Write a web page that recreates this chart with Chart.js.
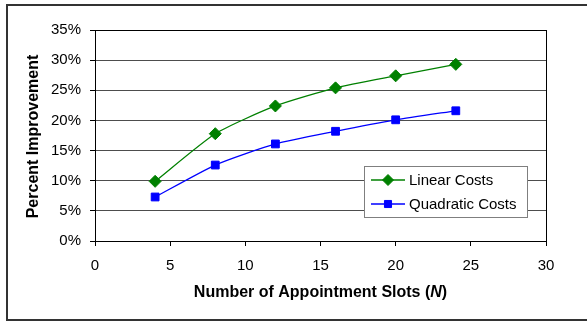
<!DOCTYPE html>
<html>
<head>
<meta charset="utf-8">
<script src="https://cdn.jsdelivr.net/npm/chart.js@4.4.1/dist/chart.umd.min.js"></script>
<style>
  html, body { margin: 0; padding: 0; background: #ffffff; }
  canvas { display: block; }
</style>
</head>
<body>
<canvas id="chart" width="587" height="322"></canvas>
<script>
// Number of appointment slots (N)
const slots = [4, 8, 12, 16, 20, 24];
// Percent improvement for each cost model
const linearCosts = [9.9, 17.8, 22.4, 25.4, 27.4, 29.3];
const quadraticCosts = [7.3, 12.6, 16.1, 18.2, 20.1, 21.6];
const seriesNames = ['Linear Costs', 'Quadratic Costs'];
const yTitle = 'Percent Improvement';
const xTitleParts = ['Number of Appointment Slots (', 'N', ')'];

const FONT = '"Liberation Sans", Arial, sans-serif';

// Outer frame, axis titles and the boxed legend
const decorations = {
  id: 'decorations',
  beforeDraw(chart) {
    const ctx = chart.ctx;
    ctx.save();
    ctx.fillStyle = '#ffffff';
    ctx.fillRect(0, 0, chart.width, chart.height);
    ctx.restore();
  },
  afterDraw(chart) {
    const ctx = chart.ctx;
    const area = chart.chartArea;
    ctx.save();

    // frame around the whole figure
    ctx.strokeStyle = '#333333';
    ctx.lineWidth = 2;
    ctx.strokeRect(7, 5, chart.width + 10, 315);

    // y axis title
    ctx.fillStyle = '#000000';
    ctx.font = 'bold 16px ' + FONT;
    ctx.textAlign = 'center';
    ctx.textBaseline = 'middle';
    ctx.save();
    ctx.translate(34, (area.top + area.bottom) / 2 + 1);
    ctx.rotate(-Math.PI / 2);
    ctx.fillText(yTitle, 0, 0);
    ctx.restore();

    // x axis title with italic N
    const fonts = ['bold 16px ' + FONT, 'italic bold 16px ' + FONT, 'bold 16px ' + FONT];
    let total = 0;
    const widths = xTitleParts.map((t, i) => { ctx.font = fonts[i]; const w = ctx.measureText(t).width; total += w; return w; });
    let x = (area.left + area.right) / 2 - total / 2;
    ctx.textAlign = 'left';
    xTitleParts.forEach((t, i) => {
      ctx.font = fonts[i];
      ctx.fillText(t, x, 293);
      x += widths[i];
    });

    // legend box
    const lx = 364, ly = 166, lw = 163, lh = 51;
    ctx.fillStyle = '#ffffff';
    ctx.fillRect(lx, ly, lw, lh);
    ctx.strokeStyle = '#7f7f7f';
    ctx.lineWidth = 1;
    ctx.strokeRect(lx + 0.5, ly + 0.5, lw, lh);

    chart.data.datasets.forEach((ds, i) => {
      const cy = 180 + i * 24;
      ctx.strokeStyle = ds.borderColor;
      ctx.lineWidth = ds.borderWidth;
      ctx.beginPath();
      ctx.moveTo(371, cy);
      ctx.lineTo(405, cy);
      ctx.stroke();
      ctx.fillStyle = ds.pointBackgroundColor;
      ctx.strokeStyle = ds.pointBorderColor;
      ctx.lineWidth = 1;
      Chart.helpers.drawPoint(ctx, {
        pointStyle: ds.pointStyle,
        radius: ds.pointRadius - 0.5,
        borderWidth: 1,
        rotation: 0
      }, 388, cy);
      ctx.fillStyle = '#000000';
      ctx.font = '15px ' + FONT;
      ctx.textAlign = 'left';
      ctx.textBaseline = 'middle';
      ctx.fillText(ds.label, 409, cy + 1);
    });

    ctx.restore();
  }
};

new Chart(document.getElementById('chart'), {
  type: 'line',
  data: {
    datasets: [
      {
        label: seriesNames[0],
        data: slots.map((s, i) => ({ x: s, y: linearCosts[i] })),
        borderColor: '#008000',
        backgroundColor: '#008000',
        pointBackgroundColor: '#008000',
        pointBorderColor: '#008000',
        pointStyle: 'rectRot',
        pointRadius: 6,
        pointBorderWidth: 1,
        borderWidth: 1.3,
        tension: 0.2,
        fill: false
      },
      {
        label: seriesNames[1],
        data: slots.map((s, i) => ({ x: s, y: quadraticCosts[i] })),
        borderColor: '#0000ff',
        backgroundColor: '#0000ff',
        pointBackgroundColor: '#0000ff',
        pointBorderColor: '#0000ff',
        pointStyle: 'rect',
        pointRadius: 5.5,
        pointBorderWidth: 1,
        borderWidth: 1.3,
        tension: 0.2,
        fill: false
      }
    ]
  },
  options: {
    responsive: false,
    animation: false,
    devicePixelRatio: 1,
    layout: { padding: { top: 30, right: 41, left: 0, bottom: 0 } },
    plugins: {
      legend: { display: false },
      tooltip: { enabled: false }
    },
    scales: {
      x: {
        type: 'linear',
        min: 0,
        max: 30,
        ticks: {
          stepSize: 5,
          color: '#000000',
          font: { family: FONT, size: 15 },
          padding: 11,
          maxRotation: 0
        },
        grid: {
          drawOnChartArea: true,
          color: c => (c.tick && c.tick.value === 30 ? '#000000' : 'rgba(0,0,0,0)'),
          tickColor: '#000000',
          tickLength: 5,
          lineWidth: 1
        },
        border: { display: true, color: '#000000', width: 1 },
        afterFit(scale) { scale.height = 81; }
      },
      y: {
        min: 0,
        max: 35,
        ticks: {
          stepSize: 5,
          color: '#000000',
          font: { family: FONT, size: 15 },
          padding: 9,
          callback: v => v + '%'
        },
        grid: {
          color: c => (c.tick && c.tick.value === 35 ? '#000000' : '#4d4d4d'),
          tickColor: '#000000',
          tickLength: 5,
          lineWidth: 1
        },
        border: { display: true, color: '#000000', width: 1 },
        afterFit(scale) { scale.width = 95; }
      }
    }
  },
  plugins: [decorations]
});
</script>
</body>
</html>
